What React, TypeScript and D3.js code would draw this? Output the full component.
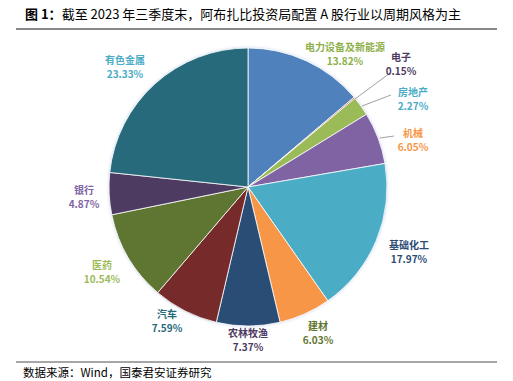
import React from "react";
import * as d3 from "d3";

const categories = ["电力设备及新能源", "电子", "房地产", "机械", "基础化工", "建材", "农林牧渔", "汽车", "医药", "银行", "有色金属"];
const values = [13.82, 0.15, 2.27, 6.05, 17.97, 6.03, 7.37, 7.59, 10.54, 4.87, 23.33];
const sliceColors = ["#4F81BD", "#C0504D", "#9BBB59", "#8064A2", "#4BACC6", "#F79646", "#2C4D75", "#772C2A", "#5F7530", "#4D3B62", "#276A7C"];
const labelColors = ["#8DB04A", "#4D3B62", "#4BACC6", "#F79646", "#2C4D75", "#5F7530", "#4D3B62", "#276A7C", "#9BBB59", "#8064A2", "#4BACC6"];
// label anchor positions (centre of the two-line label)
const labelPos: [number, number][] = [
  [345, 54], [401, 64], [413, 99], [413, 140], [409, 252], [318, 333],
  [248, 340], [167, 321], [102, 272], [84, 197], [125, 67],
];
// leader lines: [from label end, to slice]
const leaders: ([number, number][] | null)[] = [
  null,
  [[390, 73], [355, 99]],
  [[391, 95], [362, 106]],
  [[394, 136], [380, 138]],
  null, null, null, null, null, null, null,
];

const title = "图 1：截至 2023 年三季度末，阿布扎比投资局配置 A 股行业以周期风格为主";
const source = "数据来源：Wind，国泰君安证券研究";

export default function App() {
  const W = 513, H = 381;
  const cx = 248, cy = 187, r = 139;
  const pie = d3.pie<number>().value((d) => d).sort(null);
  const arcs = pie(values);
  const arc = d3.arc<d3.PieArcDatum<number>>().innerRadius(0).outerRadius(r);
  const font = "'Noto Sans CJK SC', 'DejaVu Serif', serif";
  return (
    <svg width={W} height={H} style={{ position: "absolute", left: 0, top: 0, background: "#fff" }}>
      <text x={25} y={19} fontFamily={font} fontSize={13} fill="#000">
        <tspan fontWeight="bold">图 1：</tspan>
        <tspan>{title.slice(4)}</tspan>
      </text>
      <line x1={16} x2={497} y1={29} y2={29} stroke="#888" strokeWidth={2} />
      <defs>
        <filter id="glow" x="-10%" y="-10%" width="120%" height="120%">
          <feGaussianBlur in="SourceAlpha" stdDeviation="1.5" result="b" />
          <feFlood floodColor="#c8d4ec" result="c" />
          <feComposite in="c" in2="b" operator="in" result="s" />
          <feMerge>
            <feMergeNode in="s" />
            <feMergeNode in="SourceGraphic" />
          </feMerge>
        </filter>
      </defs>
      <g transform={`translate(${cx},${cy})`} filter="url(#glow)">
        {arcs.map((a, i) => (
          <path key={i} d={arc(a) || ""} fill={sliceColors[i]} stroke="#fff" strokeWidth={0.8} />
        ))}
      </g>
      {leaders.map((l, i) =>
        l ? (
          <polyline key={i} points={l.map((p) => p.join(",")).join(" ")} fill="none" stroke="#888" strokeWidth={0.8} />
        ) : null
      )}
      {categories.map((c, i) => (
        <g key={i} fontFamily={font} fontSize={10} fontWeight="bold" fill={labelColors[i]} textAnchor="middle">
          <text x={labelPos[i][0]} y={labelPos[i][1] - 3}>{c}</text>
          <text x={labelPos[i][0]} y={labelPos[i][1] + 11}>{values[i].toFixed(2)}%</text>
        </g>
      ))}
      <line x1={16} x2={497} y1={362} y2={362} stroke="#888" strokeWidth={1.5} />
      <text x={23} y={377} fontFamily={font} fontSize={11.5} fill="#000">{source}</text>
    </svg>
  );
}
